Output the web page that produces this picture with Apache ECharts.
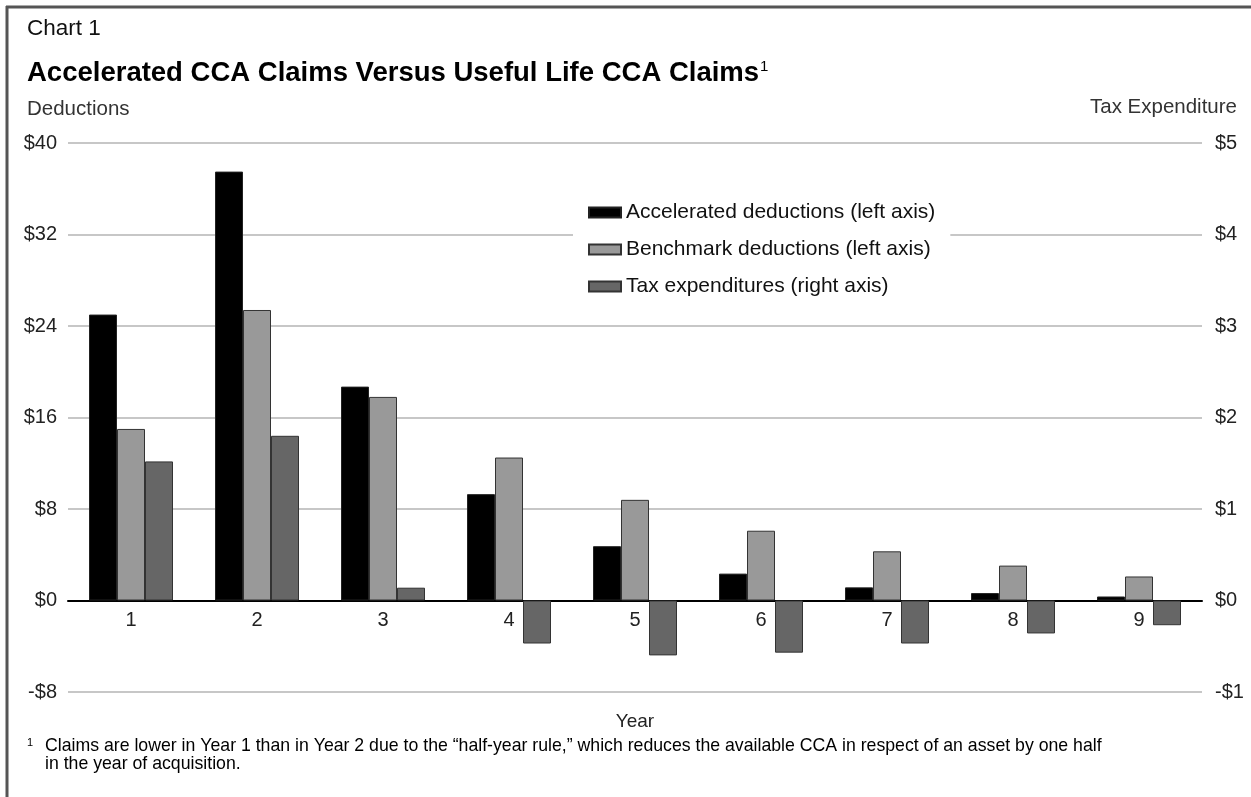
<!DOCTYPE html>
<html>
<head>
<meta charset="utf-8">
<script src="https://cdn.jsdelivr.net/npm/echarts@6/dist/echarts.min.js"></script>
<style>html,body{margin:0;padding:0;background:#fff}#c{width:1251px;height:797px}</style>
</head>
<body>
<div id="c"></div>
<script>
const years = ['1','2','3','4','5','6','7','8','9'];
const accelerated = [25.0, 37.5, 18.7, 9.3, 4.75, 2.35, 1.15, 0.65, 0.35];
const benchmark = [15.0, 25.4, 17.8, 12.5, 8.8, 6.1, 4.3, 3.05, 2.1];
const taxExp = [1.52, 1.80, 0.14, -0.47, -0.60, -0.57, -0.47, -0.36, -0.27];
const seriesNames = ['Accelerated deductions (left axis)', 'Benchmark deductions (left axis)', 'Tax expenditures (right axis)'];
const leftTicks = {min: -8, max: 40, interval: 8};
const rightTicks = {min: -1, max: 5, interval: 1};

const FONT = '"Liberation Sans", Arial, Helvetica, sans-serif';
const money = v => (v < 0 ? '-$' : '$') + Math.abs(v);

const W = 1251, H = 797;
const gridTop = 143, gridBottom = 105;
const plotH = H - gridTop - gridBottom;
const zeroOffset = -plotH * (0 - leftTicks.min) / (leftTicks.max - leftTicks.min);

const chart = echarts.init(document.getElementById('c'), null, {renderer: 'canvas'});
chart.setOption({
  animation: false,
  backgroundColor: '#fff',
  textStyle: {fontFamily: FONT},
  title: [
    {text: 'Chart 1', left: 27, top: 17, padding: 0, textStyle: {fontFamily: FONT, fontSize: 22.5, fontWeight: 'normal', color: '#111'}},
    {text: '{t|Accelerated CCA Claims Versus Useful Life CCA Claims}{s|1}', left: 27, top: 59, padding: 0,
      textStyle: {rich: {
        t: {fontFamily: FONT, fontSize: 27.5, fontWeight: 'bold', color: '#000'},
        s: {fontFamily: FONT, fontSize: 15, fontWeight: 'normal', color: '#000', verticalAlign: 'top', padding: [0, 0, 0, 1]}
      }}},
    {text: 'Deductions', left: 27, top: 99, padding: 0, textStyle: {fontFamily: FONT, fontSize: 20.5, fontWeight: 'normal', color: '#333'}},
    {text: 'Tax Expenditure', right: 14, top: 97, padding: 0, textStyle: {fontFamily: FONT, fontSize: 20.5, fontWeight: 'normal', color: '#333'}},
    {text: '{n|1}{t|Claims are lower in Year 1 than in Year 2 due to the \u201chalf-year rule,\u201d which reduces the available CCA in respect of an asset by one half}\n{p|}{t|in the year of acquisition.}',
      left: 27, top: 737, padding: 0,
      textStyle: {rich: {
        n: {fontFamily: FONT, fontSize: 11, fontWeight: 'normal', color: '#000', verticalAlign: 'top', width: 18},
        p: {width: 18, fontSize: 17.7},
        t: {fontFamily: FONT, fontSize: 17.7, fontWeight: 'normal', color: '#000', lineHeight: 18}
      }}}
  ],
  legend: {
    orient: 'vertical', left: 573, top: 192, padding: [10, 15], backgroundColor: '#fff',
    itemWidth: 32, itemHeight: 10, itemGap: 16, icon: 'rect',
    textStyle: {fontFamily: FONT, fontSize: 21, color: '#111'},
    data: seriesNames
  },
  grid: {left: 68, right: 49, top: gridTop, bottom: gridBottom, containLabel: false, outerBoundsMode: 'none'},
  xAxis: {
    type: 'category', data: years, offset: zeroOffset,
    axisLine: {onZero: false, lineStyle: {color: '#000', width: 2}},
    axisTick: {show: false},
    axisLabel: {fontFamily: FONT, fontSize: 20, color: '#222', margin: 10},
    name: 'Year', nameLocation: 'middle', nameGap: 112,
    nameTextStyle: {fontFamily: FONT, fontSize: 19, color: '#222'}
  },
  yAxis: [
    {type: 'value', position: 'left', min: leftTicks.min, max: leftTicks.max, interval: leftTicks.interval,
      axisLine: {show: false}, axisTick: {show: false},
      axisLabel: {formatter: money, fontFamily: FONT, fontSize: 20, color: '#222', margin: 11},
      splitLine: {lineStyle: {color: '#b4b4b4', width: 1.5}}},
    {type: 'value', position: 'right', min: rightTicks.min, max: rightTicks.max, interval: rightTicks.interval,
      axisLine: {show: false}, axisTick: {show: false},
      axisLabel: {formatter: money, fontFamily: FONT, fontSize: 20, color: '#222', margin: 13},
      splitLine: {show: false}}
  ],
  series: [
    {name: seriesNames[0], type: 'bar', yAxisIndex: 0, data: accelerated, barWidth: 28, barGap: '0%',
      itemStyle: {color: '#000', borderColor: '#222', borderWidth: 1}},
    {name: seriesNames[1], type: 'bar', yAxisIndex: 0, data: benchmark, barWidth: 28, barGap: '0%',
      itemStyle: {color: '#999', borderColor: '#333', borderWidth: 1}},
    {name: seriesNames[2], type: 'bar', yAxisIndex: 1, data: taxExp, barWidth: 28, barGap: '0%',
      itemStyle: {color: '#666', borderColor: '#333', borderWidth: 1}}
  ],
  graphic: [
    {type: 'line', shape: {x1: 6, y1: 7, x2: W, y2: 7}, style: {stroke: '#555', lineWidth: 3}, silent: true},
    {type: 'line', shape: {x1: 7, y1: 6, x2: 7, y2: H}, style: {stroke: '#555', lineWidth: 3}, silent: true}
  ]
});
</script>
</body>
</html>
